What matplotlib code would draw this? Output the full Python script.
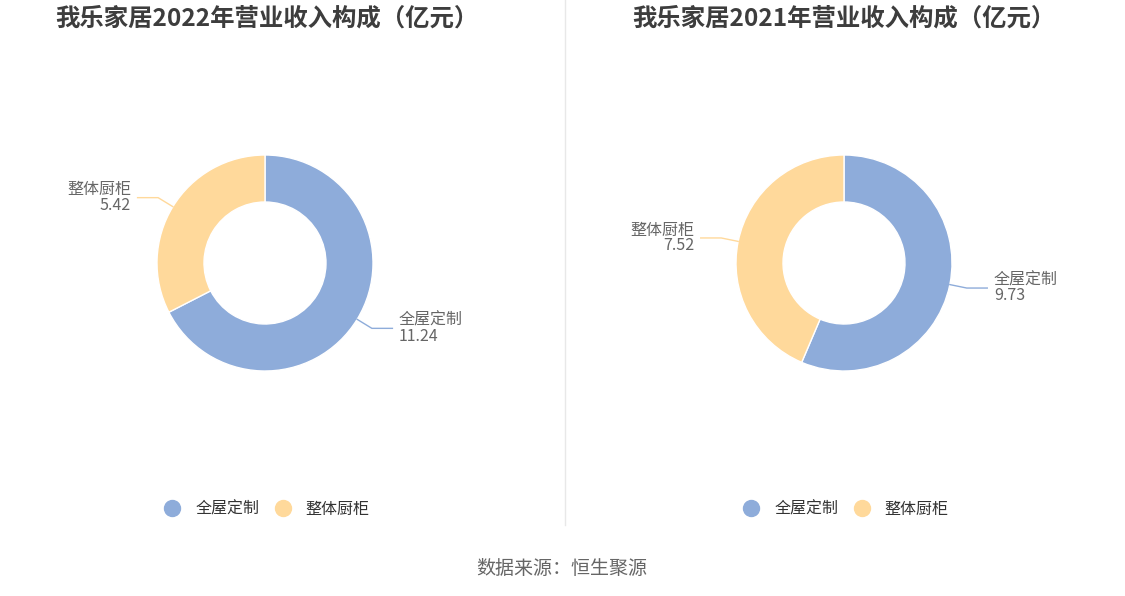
import matplotlib
matplotlib.use("Agg")
from matplotlib import pyplot as plt
from matplotlib.lines import Line2D
import numpy as np

plt.rcParams['font.family'] = ['Noto Sans CJK SC', 'DejaVu Sans']

# 数据
categories = ['全屋定制', '整体厨柜']
values_2022 = [11.24, 5.42]
values_2021 = [9.73, 7.52]
titles = ['我乐家居2022年营业收入构成（亿元）', '我乐家居2021年营业收入构成（亿元）']
source = '数据来源：恒生聚源'

colors = ['#8EACDA', '#FFD99B']
W, H = 1125, 596
R_PX = 108.0


def px_axes(fig, cx, cy, half):
    # 以像素定位的方形坐标轴，半径1对应R_PX像素
    return fig.add_axes([(cx - half) / W, 1 - (cy + half) / H, 2 * half / W, 2 * half / H])


def donut(fig, cx, cy, vals, title, tx):
    half = 220
    ax = px_axes(fig, cx, cy, half)
    lim = half / R_PX
    wedges, _ = ax.pie(vals, colors=colors, startangle=90, counterclock=False, radius=1.0,
                       wedgeprops=dict(width=1 - 61 / R_PX, edgecolor='white', linewidth=1))
    ax.set_xlim(-lim, lim)
    ax.set_ylim(-lim, lim)
    ax.set_aspect('equal')
    ax.axis('off')
    for w, v, name in zip(wedges, vals, categories):
        ang = np.deg2rad((w.theta1 + w.theta2) / 2)
        x0, y0 = np.cos(ang), np.sin(ang)
        x1, y1 = (1 + 0.16) * x0, (1 + 0.16) * y0
        sgn = 1 if x0 >= 0 else -1
        x2 = x1 + sgn * 0.19
        ax.plot([x0, x1, x2], [y0, y1, y1], color=w.get_facecolor(), lw=1, clip_on=False)
        ax.text(x2 + sgn * 0.06, y1, f'{name}\n{v:.2f}', ha='left' if sgn > 0 else 'right',
                va='center', fontsize=11.5, color='#666666', linespacing=0.9)
    fig.text(tx / W, 1 - 18 / H, title, ha='center', va='center', fontsize=17.6,
             fontweight='bold', color='#3d3d3d')
    handles = [Line2D([], [], marker='o', ls='', markersize=11.5, color=c) for c in colors]
    fig.legend(handles, categories, loc='center', bbox_to_anchor=((cx + 2) / W, 1 - 509 / H),
               ncol=2, frameon=False, fontsize=11.5, handlelength=1.0, handletextpad=0.95,
               columnspacing=0.95, labelcolor='#333333')


fig = plt.figure(figsize=(W / 100, H / 100), dpi=100)
donut(fig, 265, 263, values_2022, titles[0], 267)
donut(fig, 844, 263, values_2021, titles[1], 844)

fig.add_artist(Line2D([565 / W, 565 / W], [1 - 525 / H, 1.0], color='#e8e8e8', lw=1))
fig.text(562 / W, 1 - 568 / H, source, ha='center', va='center', fontsize=13.7, color='#666666')

fig.savefig('out.png', dpi=100)
